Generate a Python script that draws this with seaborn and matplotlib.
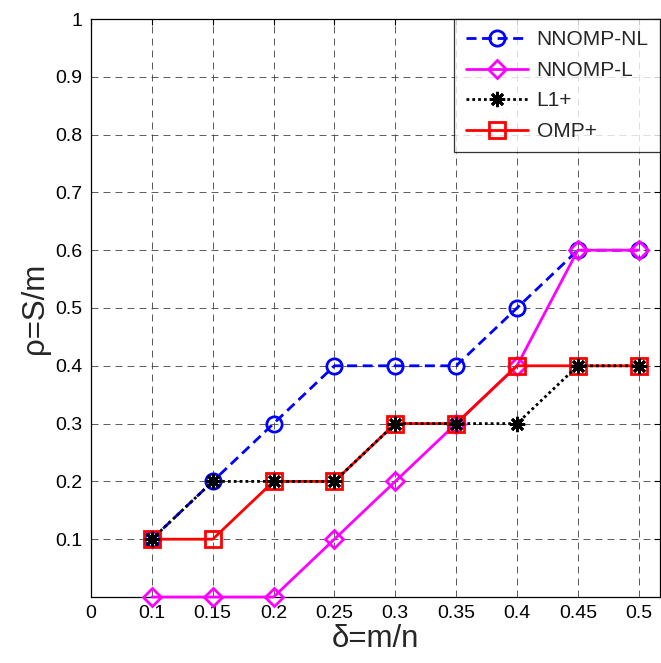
import matplotlib
matplotlib.use("Agg")
import matplotlib.pyplot as plt
import seaborn as sns

# delta = m/n values, first tick sits at the axis edge and is labelled "0"
delta = [0.1, 0.15, 0.2, 0.25, 0.3, 0.35, 0.4, 0.45, 0.5]
nnomp_nl = [0.1, 0.2, 0.3, 0.4, 0.4, 0.4, 0.5, 0.6, 0.6]
nnomp_l = [0.0, 0.0, 0.0, 0.1, 0.2, 0.3, 0.4, 0.6, 0.6]
l1_plus = [0.1, 0.2, 0.2, 0.2, 0.3, 0.3, 0.3, 0.4, 0.4]
omp_plus = [0.1, 0.1, 0.2, 0.2, 0.3, 0.3, 0.4, 0.4, 0.4]

x_ticks = [0.05, 0.1, 0.15, 0.2, 0.25, 0.3, 0.35, 0.4, 0.45, 0.5]
x_ticklabels = ["0", "0.1", "0.15", "0.2", "0.25", "0.3", "0.35", "0.4", "0.45", "0.5"]
y_ticks = [0.1, 0.2, 0.3, 0.4, 0.5, 0.6, 0.7, 0.8, 0.9, 1.0]
y_ticklabels = ["0.1", "0.2", "0.3", "0.4", "0.5", "0.6", "0.7", "0.8", "0.9", "1"]

sns.set_style("white")
plt.rcParams["font.family"] = ["Liberation Sans", "DejaVu Sans"]

fig = plt.figure(figsize=(6.61, 6.63), dpi=100)
ax = fig.add_axes([91 / 661, 1 - 597 / 663, (660 - 91) / 661, (597 - 19) / 663])

series = [
    ("NNOMP-NL", nnomp_nl, "#0000ff", (0, (3.6, 2.0)), "o", 2),
    ("NNOMP-L", nnomp_l, "#ff00ff", "-", "D", 3),
    ("L1+", l1_plus, "black", (0, (1, 1.1)), (8, 2, 0), 5),
    ("OMP+", omp_plus, "#ff0000", "-", "s", 4),
]
for name, vals, col, ls, mk, z in series:
    sns.lineplot(x=delta, y=vals, ax=ax, color=col, linestyle=ls, marker=mk,
                 markersize=11 if mk != "D" else 9.5, markerfacecolor="none",
                 markeredgecolor=col, markeredgewidth=2, linewidth=2,
                 label=name, zorder=z, clip_on=False)

ax.set_xlim(0.05, 0.5175)
ax.set_ylim(0, 1)
ax.set_xticks(x_ticks)
ax.set_xticklabels(x_ticklabels)
ax.set_yticks(y_ticks)
ax.set_yticklabels(y_ticklabels)
ax.tick_params(direction="in", length=4, width=0.8, labelsize=14, colors="black",
               top=True, right=True, pad=6)
ax.grid(True, color="#404040", linestyle=(0, (8.4, 6)), linewidth=0.6)
for sp in ax.spines.values():
    sp.set_color("black")
    sp.set_linewidth(0.9)

ax.set_xlabel("δ=m/n", fontsize=22.5, labelpad=1)
ax.set_ylabel("ρ=S/m", fontsize=22.5, labelpad=4)

leg = ax.legend(loc="upper right", fontsize=15, frameon=True, fancybox=False,
                borderaxespad=0, handlelength=3.0, handletextpad=0.4,
                labelspacing=0.55, borderpad=0.55)
leg.get_frame().set_edgecolor("black")
leg.get_frame().set_linewidth(0.9)
leg.set_zorder(10)

fig.savefig("out.png", dpi=100, facecolor="white")
